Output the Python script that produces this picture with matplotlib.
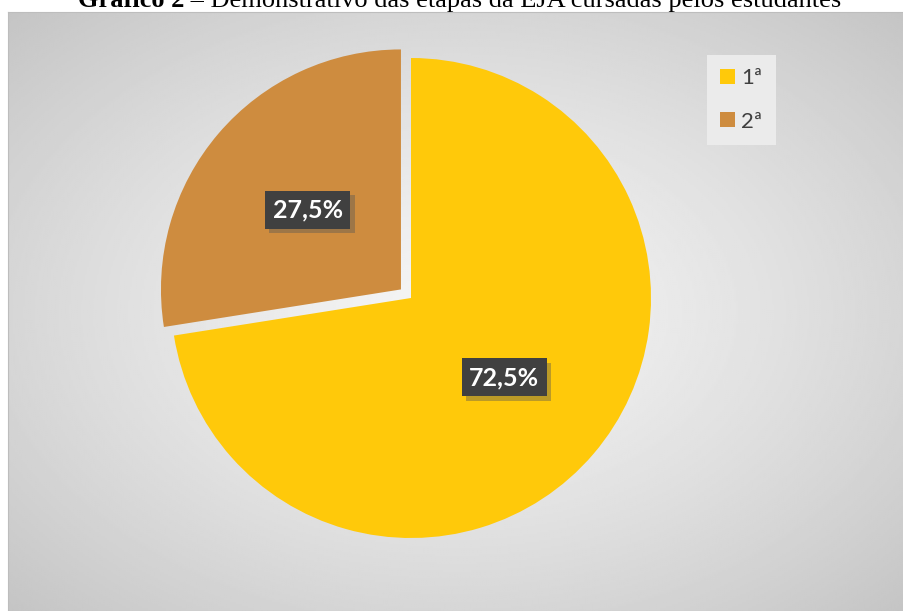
import numpy as np
import matplotlib.pyplot as plt
import matplotlib.patheffects as pe

# dados
etapas = ['1ª', '2ª']
percentuais = [72.5, 27.5]
cores = ['#FFC90A', '#CE8C3F']
afastamento = [0, 0.055]

titulo_negrito = 'Gráfico 2'
titulo_resto = ' – Demonstrativo das etapas da EJA cursadas pelos estudantes'

W, H = 904, 611
fig = plt.figure(figsize=(W / 100, H / 100), dpi=100)

# fundo com degrade radial (area do grafico)
bg = fig.add_axes([8 / W, 0, 1 - 8 / W, 1 - 12 / H])
yy, xx = np.mgrid[0:300, 0:450]
r = np.hypot((xx - 225) / 225, (yy - 150) / 150) / np.sqrt(2)
grad = 0.96 - 0.19 * r ** 1.3
bg.imshow(grad, cmap='gray', vmin=0, vmax=1, aspect='auto', extent=[0, 1, 0, 1])
bg.set_xticks([])
bg.set_yticks([])
for s in bg.spines.values():
    s.set_color('#bdbdbd')
    s.set_linewidth(0.8)

# pizza
R = 240
cx, cy = 411, H - 298
lim = 1.1
ax = fig.add_axes([(cx - R * lim) / W, (cy - R * lim) / H, 2 * R * lim / W, 2 * R * lim / H])
wedges, _, autotexts = ax.pie(
    percentuais, colors=cores, explode=afastamento, startangle=90, counterclock=False,
    autopct=lambda p: f'{p:.1f}%'.replace('.', ','), pctdistance=0.51,
    textprops=dict(color='white', fontsize=18, fontweight='bold', family='Lato'))
ax.set_xlim(-lim, lim)
ax.set_ylim(-lim, lim)
ax.set_aspect('equal')

for t in autotexts:
    t.set_bbox(dict(boxstyle='square,pad=0.3', fc='#404040', ec='none'))
    t.get_bbox_patch().set_path_effects([
        pe.SimplePatchShadow(offset=(3, -3), shadow_rgbFace='#555555', alpha=0.4),
        pe.Normal()])

# legenda
leg = fig.legend(wedges, etapas, loc='upper left', bbox_to_anchor=(707 / W, 1 - 55 / H),
                 borderaxespad=0, frameon=True, fancybox=False, handlelength=0.65,
                 handleheight=0.65, handletextpad=0.3, labelspacing=1.05,
                 borderpad=0.6, prop=dict(family='Lato', size=16))
leg.get_frame().set_facecolor('#ebebeb')
leg.get_frame().set_edgecolor('none')
leg.get_frame().set_alpha(1)
for t in leg.get_texts():
    t.set_color('#404040')

# titulo (cortado no topo, como na imagem original)
ty = 1 - 7 / H
t1 = fig.text(78 / W, ty, titulo_negrito, family='Liberation Serif', fontweight='bold',
              fontsize=19, va='baseline', ha='left')
rend = fig.canvas.get_renderer()
x1 = t1.get_window_extent(rend).x1
fig.text(x1 / W, ty, titulo_resto, family='Liberation Serif', fontsize=19,
         va='baseline', ha='left')

fig.savefig('out.png', dpi=100, facecolor='white')
